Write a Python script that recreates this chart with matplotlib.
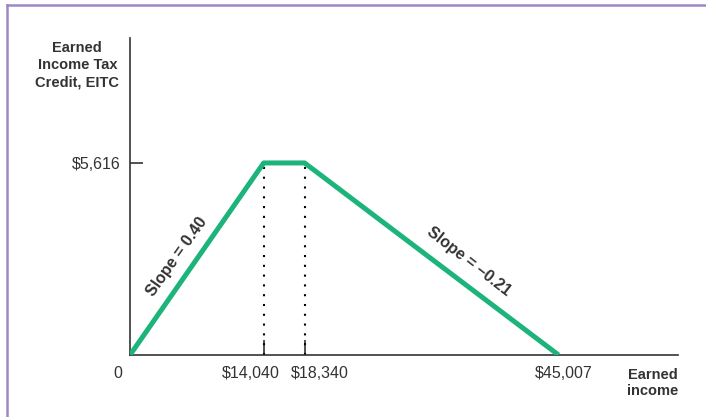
import matplotlib.pyplot as plt
from matplotlib.lines import Line2D
from matplotlib.transforms import ScaledTranslation

# EITC schedule
income = [0, 14040, 18340, 45007]
credit = [0, 5616, 5616, 0]
xtick_vals = [14040, 18340, 45007]
xtick_labels = ['$14,040', '$18,340', '$45,007']
ytick_vals = [5616]
ytick_labels = ['$5,616']

green = '#1db47c'
dark = '#333333'
plt.rcParams['font.family'] = ['Liberation Sans', 'DejaVu Sans']

fig = plt.figure(figsize=(7.06, 4.17), dpi=100)
ax = fig.add_axes([130/706, 62/417, 548/706, 317/417])

ax.plot(income, credit, color=green, lw=3.6, solid_capstyle='butt', zorder=3)
for xv in income[1:3]:
    ax.plot([xv, xv], [0, credit[1]], color='black', lw=1.5,
            linestyle=(0, (1, 3.7)), zorder=2)

ax.set_xlim(0, 57550)
ax.set_ylim(0, 9270)
ax.spines['top'].set_visible(False)
ax.spines['right'].set_visible(False)
for s in ['left', 'bottom']:
    ax.spines[s].set_color(dark)
    ax.spines[s].set_linewidth(1.2)

ax.set_xticks(xtick_vals)
ax.set_xticklabels(xtick_labels)
ax.set_yticks(ytick_vals)
ax.set_yticklabels(ytick_labels)
ax.tick_params(axis='x', direction='in', length=11, width=1.2, color=dark,
               pad=8, labelsize=11.5, labelcolor=dark)
ax.tick_params(axis='y', direction='in', length=9.5, width=1.2, color=dark,
               pad=7, labelsize=11.5, labelcolor=dark)
# no tick at 45,007
ax.xaxis.get_major_ticks()[2].tick1line.set_visible(False)
# nudge the crowded labels apart (pixels)
for lab, dx in zip(ax.get_xticklabels(), [-13, 15, 5]):
    lab.set_transform(lab.get_transform() + ScaledTranslation(dx/100, 0, fig.dpi_scale_trans))

ax.text(-1260, -540, '0', ha='center', va='center', fontsize=11.5, color=dark,
        clip_on=False)

ax.text(-5530, 8480, 'Earned\nIncome Tax\nCredit, EITC', ha='center',
        va='center', fontsize=10.5, fontweight='bold', color=dark,
        linespacing=1.28, clip_on=False)
ax.text(57550, -810, 'Earned\nincome', ha='right', va='center',
        multialignment='right', fontsize=10.5, fontweight='bold', color=dark,
        linespacing=1.15, clip_on=False)

ax.text(4954, 2866, 'Slope = 0.40', rotation=54.5, rotation_mode='anchor',
        ha='center', va='center', fontsize=11.5, fontweight='bold', color=dark)
ax.text(35600, 2720, 'Slope = \u20130.21', rotation=-38, rotation_mode='anchor',
        ha='center', va='center', fontsize=11.5, fontweight='bold', color=dark)

# frame
border = '#9d88c6'
fig.add_artist(Line2D([7/706, 7/706], [0, 1 - 5/417], color=border, lw=1.8,
                      transform=fig.transFigure))
fig.add_artist(Line2D([7/706, 1], [1 - 5/417, 1 - 5/417], color=border, lw=1.8,
                      transform=fig.transFigure))

fig.savefig('out.png', dpi=100)
